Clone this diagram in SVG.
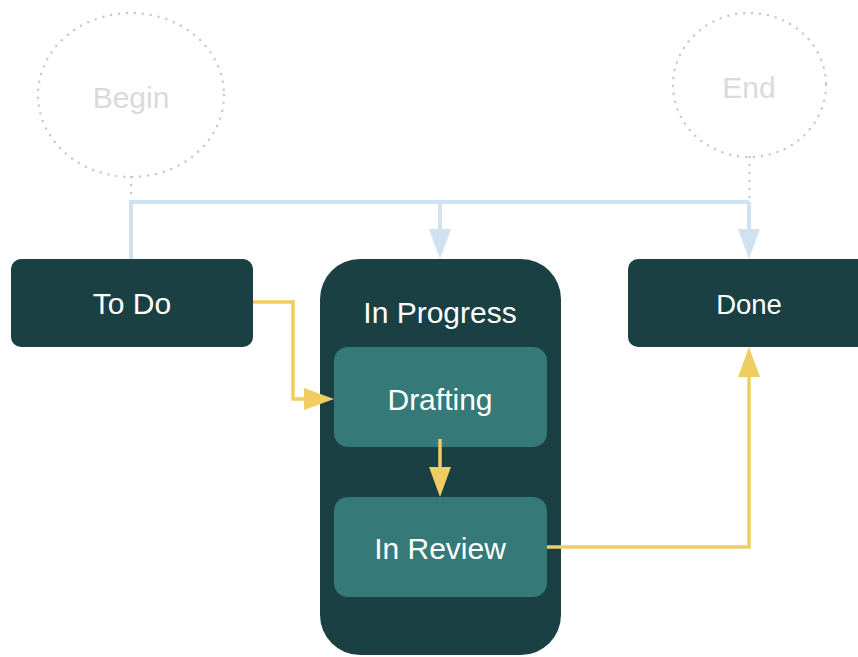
<svg xmlns="http://www.w3.org/2000/svg" width="858" height="657" viewBox="0 0 858 657">
<style>
.lbl{font-family:"Liberation Sans",Arial,sans-serif;fill:#ffffff;text-anchor:middle;dominant-baseline:central}
.ghost{font-family:"Liberation Sans",Arial,sans-serif;fill:#dadada;text-anchor:middle;dominant-baseline:central;font-size:30px}
.dot{fill:none;stroke:#c8c8c8;stroke-width:2.5;stroke-dasharray:0 8;stroke-linecap:round}
.blue{fill:none;stroke:#d0e1f2;stroke-width:4}
.yel{fill:none;stroke:#f0cd61;stroke-width:3.5}
.outer{fill:#1a4043}
.inner{fill:#357a78}
</style>
<g id="begin"><ellipse cx="131" cy="95" rx="93" ry="82" class="dot"/><text x="131" y="97" class="ghost">Begin</text></g>
<g id="end"><ellipse cx="749.5" cy="85" rx="76.5" ry="72" class="dot"/><text x="749" y="87" class="ghost">End</text></g>
<g id="todo"><rect x="11" y="259" width="242" height="88" rx="10" class="outer"/><text x="132" y="303" class="lbl" font-size="30">To Do</text></g>
<g id="inprogress"><rect x="320" y="259" width="241" height="396" rx="40" class="outer"/><text x="440" y="312" class="lbl" font-size="30">In Progress</text></g>
<g id="drafting"><rect x="334" y="347" width="213" height="100" rx="14" class="inner"/><text x="440" y="399" class="lbl" font-size="30">Drafting</text></g>
<g id="inreview"><rect x="334" y="497" width="213" height="100" rx="14" class="inner"/><text x="440" y="548" class="lbl" font-size="30">In Review</text></g>
<g id="done"><rect x="628" y="259" width="242" height="88" rx="10" class="outer"/><text x="749" y="304" class="lbl" font-size="27.5">Done</text></g>
<g id="connectors">
<path d="M131 177 V200" class="dot"/>
<path d="M749.5 157 V200" class="dot"/>
<path d="M131 259 V202 H749" class="blue"/>
<path d="M440 202 V232" class="blue"/>
<path d="M749 202 V232" class="blue"/>
<polygon points="429,229 451,229 440,259" fill="#d0e1f2"/>
<polygon points="738,229 760,229 749,259" fill="#d0e1f2"/>
<path d="M253 302 H293 V399 H306" class="yel"/>
<polygon points="304,388 304,410 334,399" fill="#f0cd61"/>
<path d="M440 439 V470" class="yel"/>
<polygon points="429,467 451,467 440,497" fill="#f0cd61"/>
<path d="M547 547 H749 V374" class="yel"/>
<polygon points="738,377 760,377 749,347" fill="#f0cd61"/>
</g>
</svg>
